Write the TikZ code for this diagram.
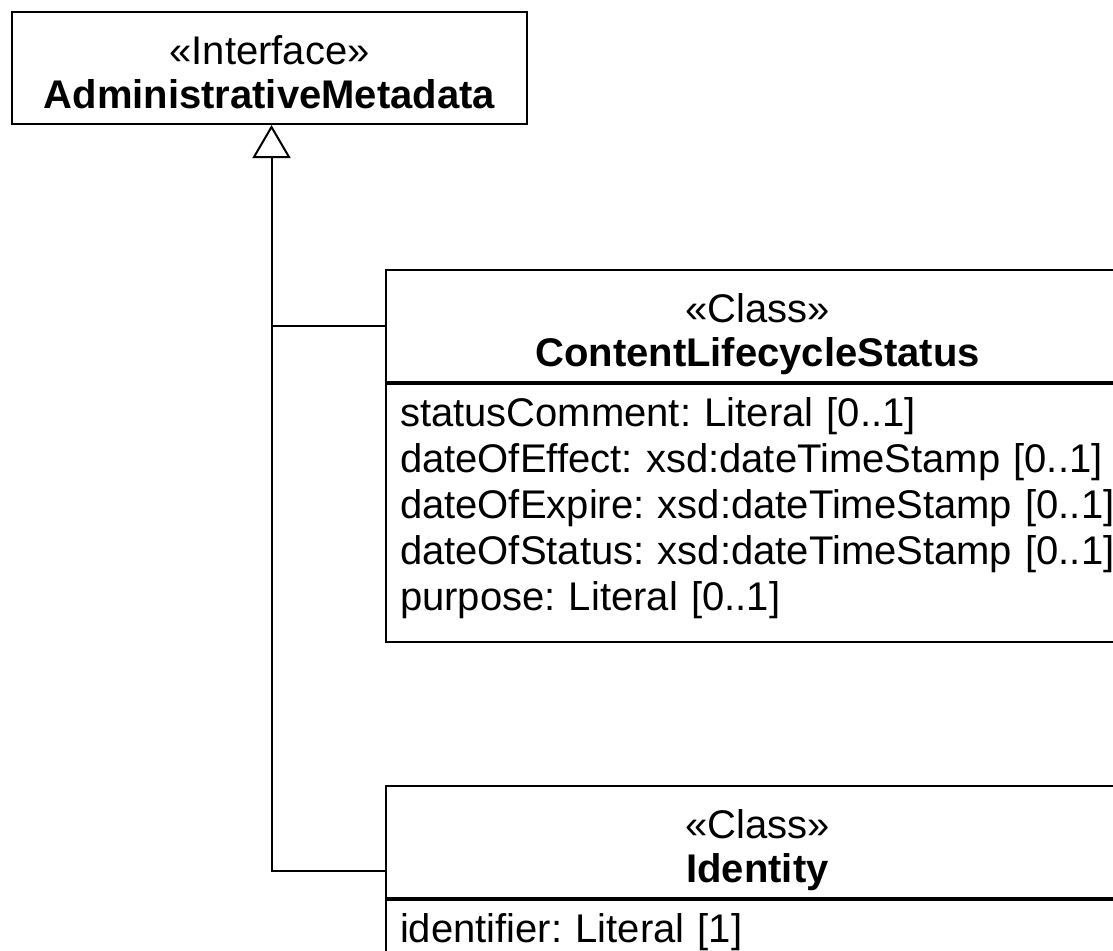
\documentclass[tikz,border=0pt]{standalone}
\usepackage{fontspec}
\setmainfont{Liberation Sans}
\usepackage{tikz}
\usetikzlibrary{arrows.meta, positioning}
\frenchspacing
\newcommand{\headtop}{\rule{0pt}{52pt}}
\newcommand{\headbot}{\rule[-16pt]{0pt}{16pt}}
\newcommand{\attrtop}{\rule{0pt}{42pt}}
\newcommand{\attrbot}{\rule[-32pt]{0pt}{32pt}}

\begin{document}
\begin{tikzpicture}[x=1pt, y=-1pt,
    umlhead/.style={draw, line width=2pt, minimum width=#1, inner xsep=0pt, inner ysep=0pt,
        align=center, font=\fontsize{40}{44}\selectfont},
    umlattr/.style={draw, line width=2pt, text width=715pt, inner xsep=14pt, inner ysep=0pt,
        align=left, font=\fontsize{40}{46}\selectfont},
    gen/.style={line width=2pt, -{Triangle[open, length=33pt, width=38pt]}}]
                  \useasboundingbox (0, 0) rectangle (1113, 950);
                  \clip (0, 0) rectangle (1113, 950);

                  % Interface
                  \node[umlhead=515pt] (iface) at (269.5, 68) {\headtop«Interface»\\\textbf{AdministrativeMetadata}\headbot};

                  % Classes
                  \node[umlhead=743pt] (clshead) at (757.5, 326) {\headtop«Class»\\\textbf{ContentLifecycleStatus}\headbot};
                  \node[umlattr, below=0pt of clshead] (clsattr) {\attrtop statusComment: Literal [0..1]\\
                      dateOfEffect: xsd:dateTimeStamp [0..1]\\
                      dateOfExpire: xsd:dateTimeStamp [0..1]\\
                      dateOfStatus: xsd:dateTimeStamp [0..1]\\
                      purpose: Literal [0..1]\attrbot};

                  \node[umlhead=743pt] (idhead) at (757.5, 842) {\headtop«Class»\\\textbf{Identity}\headbot};
                  \node[umlattr, below=0pt of idhead] (idattr) {\attrtop identifier: Literal [1]\attrbot};

                  % Generalisation
                  \coordinate (trunk) at ([xshift=2pt]iface.south);
                  \draw[gen] ([yshift=-29pt]idhead.west) -| (trunk);
                  \draw[line width=2pt] (clshead.west) -- (clshead.west -| trunk);
              \end{tikzpicture}
\end{document}
